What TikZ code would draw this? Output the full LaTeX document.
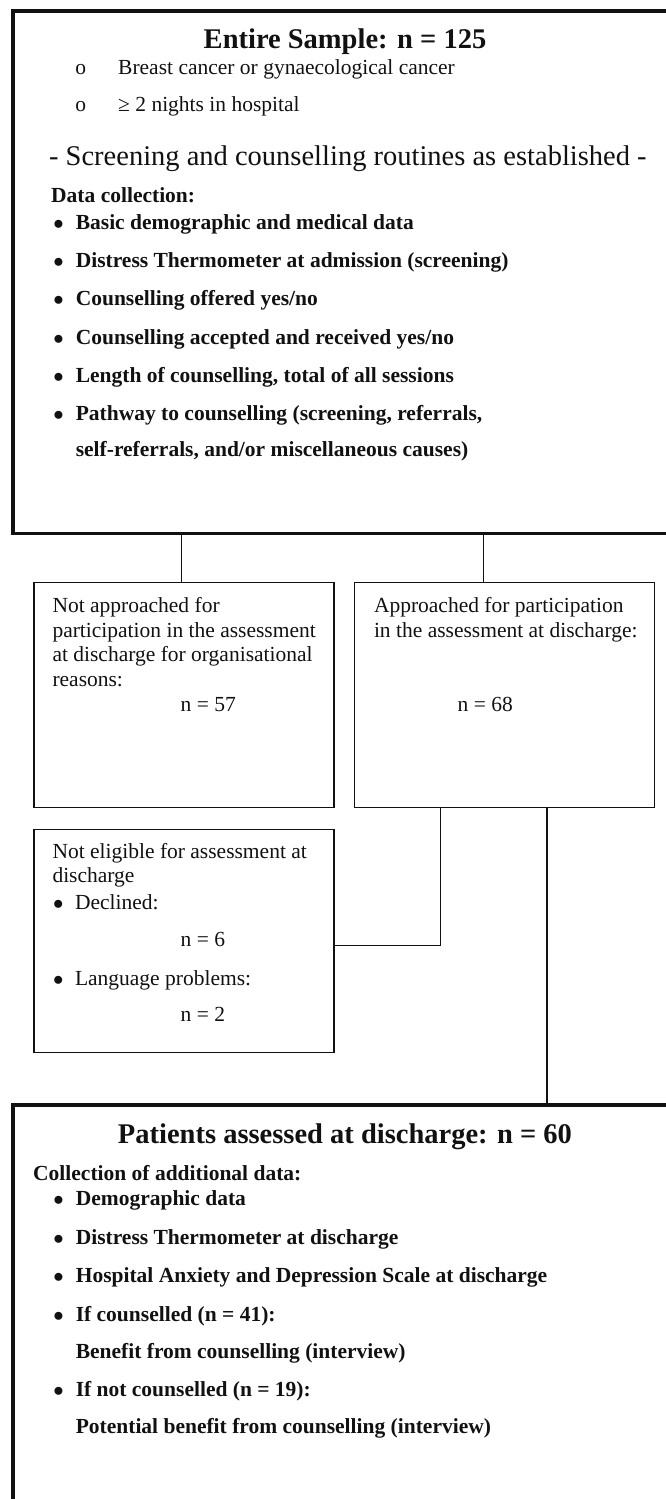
\documentclass[tikz,border=0pt]{standalone}
\usepackage{fontspec}
\setmainfont{Liberation Serif}
\usetikzlibrary{positioning,calc}
\definecolor{flowInk}{HTML}{111111}
\newcommand{\flowbody}{\fontsize{21.5}{25}\selectfont}
\newcommand{\flowbig}{\fontsize{28.5}{34}\selectfont}
\newcommand{\flowdot}{$\bullet$}
\tikzset{
  bigbox/.style={draw=flowInk, line width=3.6pt, anchor=north west, outer sep=0pt,
              inner sep=0pt, minimum width=670pt},
  smallbox/.style={draw=flowInk, line width=1.3pt, anchor=north west, outer sep=0pt,
              inner sep=0pt, minimum width=300pt, minimum height=224.5pt},
  txt/.style={anchor=base west, inner sep=0pt, text=flowInk, font=\flowbody},
  btxt/.style={txt, font=\flowbody\bfseries},
  dot/.style={anchor=base, inner sep=0pt, text=flowInk, font=\flowbody},
  head/.style={anchor=base, inner sep=0pt, text=flowInk, font=\flowbig\bfseries},
  link/.style={draw=flowInk, line width=1.3pt},
}

\begin{document}
\begin{tikzpicture}[x=1pt,y=-1pt]
  \useasboundingbox (0,0) rectangle (666,1499);
  \clip (0,0) rectangle (666,1499);
  % boxes
  \node[bigbox,minimum height=522.5pt] (sample) at (13,11) {};
  \node[smallbox] (notappr) at (34,582.7) {};
  \node[smallbox] (appr) at (354.7,582.7) {};
  \node[smallbox,minimum height=223.4pt] (notelig) at (34,829.3) {};
  \node[bigbox,minimum height=430pt] (assessed) at (13,1105) {};
  % connectors
  \coordinate (c1) at (181.7,0);
  \coordinate (c2) at (483.4,0);
  \coordinate (c3) at (440.3,945.7);
  \coordinate (c4) at (547,0);
  \draw[link] (sample.south -| c1) -- (notappr.north -| c1);
  \draw[link] (sample.south -| c2) -- (appr.north -| c2);
  \draw[link] (appr.south -| c3) |- (notelig.east |- c3);
  \draw[link] (appr.south -| c4) -- (assessed.north -| c4);
  % entire sample
  \node[head] (sampletitle) at (345,48.3) {Entire Sample: n = 125};
  \foreach \y/\t [count=\i] in {74/{Breast cancer or gynaecological cancer},
                                111.7/{≥ 2 nights in hospital}}{
    \node[dot] (inclo\i) at (80.7,\y) {o};
    \node[txt] (incl\i) at (118,\y) {\t};}
  \node[txt,font=\flowbig] (routine) at (48.9,165)
    {- Screening and counselling routines as established -};
  \node[btxt] (datahead) at (51,202.7) {Data collection:};
  \foreach \y/\t [count=\i] in {229.3/{Basic demographic and medical data},
                                267.7/{Distress Thermometer at admission (screening)},
                                305.7/{Counselling offered yes/no},
                                344/{Counselling accepted and received yes/no},
                                382.3/{Length of counselling, total of all sessions},
                                420.7/{Pathway to counselling (screening, referrals,}}{
    \node[dot] (db\i) at (58.6,\y) {\flowdot};
    \node[btxt] (dt\i) at (75.6,\y) {\t};}
  \node[btxt] (dt7) at (75.6,456.7) {self-referrals, and/or miscellaneous causes)};
  % not approached / approached
  \foreach \y/\t [count=\i] in {612.3/{Not approached for},
                                637/{participation in the assessment},
                                661.7/{at discharge for organisational},
                                686/{reasons:}}{
    \node[txt] (na\i) at (52.3,\y) {\t};}
  \node[txt] (nacount) at (180.5,711) {n = 57};
  \foreach \y/\t [count=\i] in {612.3/{Approached for participation},
                                637/{in the assessment at discharge:}}{
    \node[txt] (ap\i) at (373.8,\y) {\t};}
  \node[txt] (apcount) at (457.5,711) {n = 68};
  % not eligible
  \node[txt] (ne1) at (52.3,858.3) {Not eligible for assessment at};
  \node[txt] (ne2) at (52.3,882.7) {discharge};
  \foreach \y/\t [count=\i] in {909/{Declined:}, 985/{Language problems:}}{
    \node[dot] (neb\i) at (58.2,\y) {\flowdot};
    \node[txt] (ner\i) at (74.8,\y) {\t};}
  \node[txt] (necount1) at (180.5,946) {n = 6};
  \node[txt] (necount2) at (180.5,1021.7) {n = 2};
  % assessed at discharge
  \node[head] (assessedtitle) at (345,1143.3) {Patients assessed at discharge: n = 60};
  \node[btxt] (addhead) at (33,1180) {Collection of additional data:};
  \foreach \y/\t [count=\i] in {1205.7/{Demographic data},
                                1244/{Distress Thermometer at discharge},
                                1282.7/{Hospital Anxiety and Depression Scale at discharge},
                                1321/{If counselled (n = 41):},
                                1396.7/{If not counselled (n = 19):}}{
    \node[dot] (ab\i) at (58.6,\y) {\flowdot};
    \node[btxt] (at\i) at (75.6,\y) {\t};}
  \node[btxt] (benefit) at (75.6,1358.3) {Benefit from counselling (interview)};
  \node[btxt] (potential) at (75.6,1433.3) {Potential benefit from counselling (interview)};
\end{tikzpicture}
\end{document}
